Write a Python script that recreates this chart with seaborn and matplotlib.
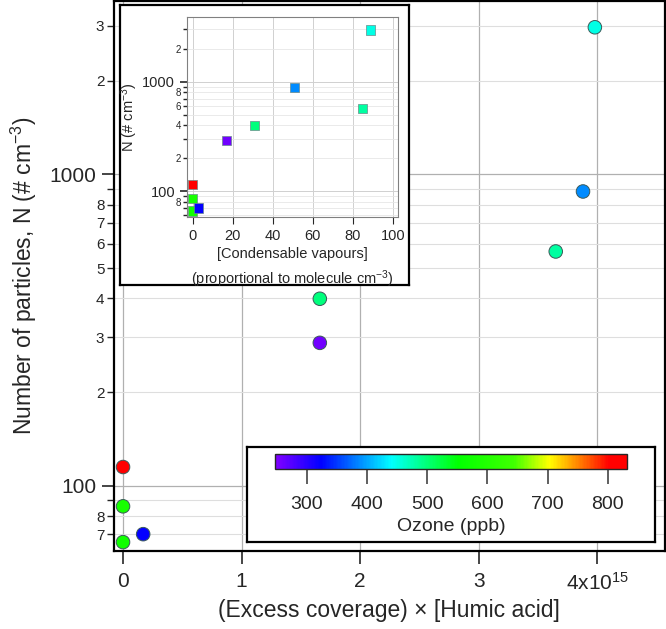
import matplotlib
matplotlib.use("Agg")
import matplotlib.pyplot as plt
import matplotlib.ticker as mticker
from matplotlib.colors import LinearSegmentedColormap, Normalize
import seaborn as sns
import numpy as np
import pandas as pd

# values
coverage = [0.0, 0.0, 0.0, 0.17e15, 1.66e15, 1.66e15, 3.65e15, 3.88e15, 3.98e15]
vapours = [0, 0, 0, 3, 31, 17, 85, 51, 89]
n_particles = [115, 86, 66, 70, 399, 288, 566, 882, 2970]
ozone = [820, 585, 575, 322, 498, 258, 482, 388, 452]

x_ticks = [0, 1e15, 2e15, 3e15, 4e15]
x_ticklabels = ["0", "1", "2", "3", "4x10$^{15}$"]
inset_x_ticks = [0, 20, 40, 60, 80, 100]
ozone_ticks = [300, 400, 500, 600, 700, 800]

df = pd.DataFrame({"coverage": coverage, "vapours": vapours,
                   "N": n_particles, "ozone": ozone})

sns.set_style("white")
plt.rcParams["font.family"] = ["Liberation Sans", "DejaVu Sans"]
plt.rcParams["mathtext.fontset"] = "custom"
plt.rcParams["mathtext.rm"] = "Liberation Sans"
plt.rcParams["mathtext.it"] = "Liberation Sans:italic"

rainbow = LinearSegmentedColormap.from_list("igor_rainbow", [
    (0.0, "#8000ff"), (0.13, "#0000ff"), (0.33, "#00ffff"), (0.52, "#00ff00"),
    (0.68, "#40ff00"), (0.78, "#ffff00"), (0.95, "#ff0000"), (1.0, "#ff0000")])
oz_norm = (247, 832)


def minor_fmt(show, lowest=0):
    def f(v, pos):
        d = int(round(v / 10 ** np.floor(np.log10(v) + 1e-9)))
        return str(d) if (d in show and v > lowest) else ""
    return mticker.FuncFormatter(f)


def log_axis(ax, show, major_size, minor_size, tlen, lowest=0):
    ax.set_yscale("log")
    ax.yaxis.set_major_locator(mticker.LogLocator(base=10, subs=[1.0]))
    ax.yaxis.set_major_formatter(mticker.FuncFormatter(lambda v, p: f"{v:g}"))
    ax.yaxis.set_minor_locator(mticker.LogLocator(base=10, subs=np.arange(2, 10)))
    ax.yaxis.set_minor_formatter(minor_fmt(show, lowest))
    ax.tick_params(axis="y", which="major", labelsize=major_size, length=tlen,
                   width=1.2, direction="out", left=True)
    ax.tick_params(axis="y", which="minor", labelsize=minor_size, length=tlen * 0.6,
                   width=1.0, direction="out", left=True, pad=1.5)


fig = plt.figure(figsize=(6.66, 6.29), dpi=100)

# --- main panel ---
ax = fig.add_axes([0.1712, 0.124, 0.827, 0.874])
sns.scatterplot(data=df, x="coverage", y="N", hue="ozone", palette=rainbow,
                hue_norm=oz_norm, s=95, edgecolor="#3a5a5a", linewidth=0.7,
                legend=False, ax=ax, zorder=3)
log_axis(ax, {2, 3, 4, 5, 6, 7, 8}, 15, 11, 9)
ax.set_ylim(61.8, 3600)
ax.set_xlim(-0.076e15, 4.57e15)
ax.set_xticks(x_ticks)
ax.set_xticklabels(x_ticklabels)
ax.tick_params(axis="x", labelsize=15, length=9, width=1.2, direction="out",
               bottom=True, pad=6)
ax.grid(True, which="major", axis="both", color="#b0b0b0", linewidth=0.9)
ax.grid(True, which="minor", axis="y", color="#dedede", linewidth=0.8)
for sp in ax.spines.values():
    sp.set_linewidth(1.6)
    sp.set_color("black")
ax.set_xlabel("(Excess coverage) × [Humic acid]", fontsize=16.5, labelpad=4)
ax.set_ylabel("Number of particles, N (# cm$^{-3}$)", fontsize=16.5, labelpad=8)

# --- inset frame ---
box = fig.add_axes([0.180, 0.547, 0.434, 0.445])
box.set_xticks([])
box.set_yticks([])
box.set_facecolor("white")
for sp in box.spines.values():
    sp.set_linewidth(1.6)
    sp.set_color("black")

ins = fig.add_axes([0.2808, 0.655, 0.3168, 0.318])
sns.scatterplot(data=df, x="vapours", y="N", hue="ozone", palette=rainbow,
                hue_norm=oz_norm, marker="s", s=45, edgecolor="#6a8a8a",
                linewidth=0.5, legend=False, ax=ins, zorder=3)
log_axis(ins, {2, 4, 6, 8}, 10.5, 7, 5, lowest=70)
ins.set_ylim(58, 3900)
ins.set_xlim(-2.8, 102.6)
ins.set_xticks(inset_x_ticks)
ins.tick_params(axis="x", labelsize=10.5, length=5, direction="out", bottom=True)
ins.grid(True, which="major", axis="both", color="#d0d0d0", linewidth=0.7)
ins.grid(True, which="minor", axis="y", color="#e6e6e6", linewidth=0.6)
for sp in ins.spines.values():
    sp.set_linewidth(0.8)
    sp.set_color("#808080")
ins.set_xlabel("[Condensable vapours]\n(proportional to molecule cm$^{-3}$)",
               fontsize=10.5, labelpad=3, linespacing=1.5)
ins.set_ylabel("N (# cm$^{-3}$)", fontsize=10.5, labelpad=2)

# --- colour bar box ---
cbox = fig.add_axes([0.371, 0.138, 0.6126, 0.151])
cbox.set_xticks([])
cbox.set_yticks([])
cbox.set_facecolor("white")
for sp in cbox.spines.values():
    sp.set_linewidth(1.6)
    sp.set_color("black")

cax = fig.add_axes([0.413, 0.254, 0.5285, 0.025])
sm = plt.cm.ScalarMappable(norm=Normalize(*oz_norm), cmap=rainbow)
cb = fig.colorbar(sm, cax=cax, orientation="horizontal")
cb.set_ticks(ozone_ticks)
cb.outline.set_linewidth(1.0)
cax.tick_params(labelsize=14, length=11, width=1.2, color="#444444", pad=8)
cb.set_label("Ozone (ppb)", fontsize=14, labelpad=4)

fig.savefig("out.png", dpi=100)
